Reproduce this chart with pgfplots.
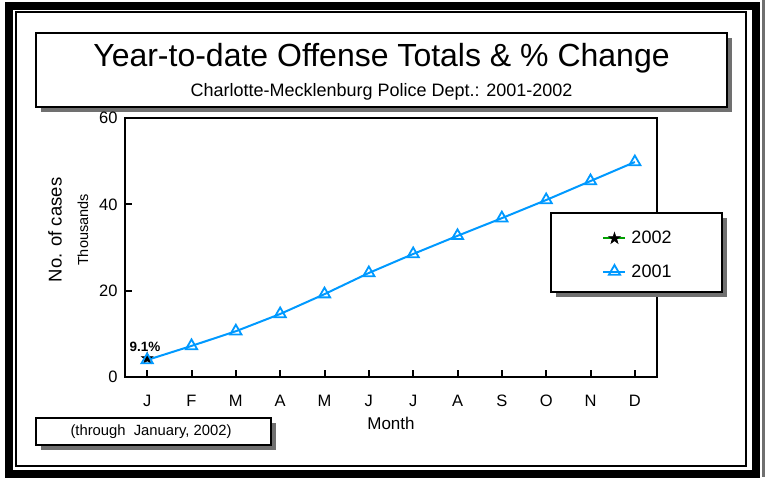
\documentclass[border=0pt]{standalone}
\usepackage{fontspec}
\setmainfont{Liberation Sans}
\usepackage{pgfplots}
\pgfplotsset{compat=1.18}
\definecolor{lblue}{RGB}{0,153,255}
\definecolor{shd}{RGB}{112,112,112}
\definecolor{lgreen}{RGB}{0,160,0}
\pgfdeclareplotmark{fstar}{%
  \pgfpathmoveto{\pgfpointpolar{90}{\pgfplotmarksize}}%
  \pgfpathlineto{\pgfpointpolar{126}{0.382\pgfplotmarksize}}%
  \pgfpathlineto{\pgfpointpolar{162}{\pgfplotmarksize}}%
  \pgfpathlineto{\pgfpointpolar{198}{0.382\pgfplotmarksize}}%
  \pgfpathlineto{\pgfpointpolar{234}{\pgfplotmarksize}}%
  \pgfpathlineto{\pgfpointpolar{270}{0.382\pgfplotmarksize}}%
  \pgfpathlineto{\pgfpointpolar{306}{\pgfplotmarksize}}%
  \pgfpathlineto{\pgfpointpolar{342}{0.382\pgfplotmarksize}}%
  \pgfpathlineto{\pgfpointpolar{18}{\pgfplotmarksize}}%
  \pgfpathlineto{\pgfpointpolar{54}{0.382\pgfplotmarksize}}%
  \pgfpathclose
  \pgfusepathqfillstroke}
\pgfplotsset{
  s2002/.style={lgreen, line width=2pt, mark=fstar, mark size=6pt, mark options={fill=black, draw=black, line width=0.6pt, solid}},
  s2001/.style={lblue, line width=2pt, mark=triangle, mark size=6.5pt, mark options={line width=1.8pt, solid}},
}
\begin{document}
\begin{tikzpicture}[x=1pt,y=1pt]
\path[use as bounding box] (0,0) rectangle (767,477);
% outer frames
\fill[shd] (761.5,0) rectangle (764.5,477);
\draw[line width=8pt] (9,3.5) rectangle (755.5,471);
\draw[line width=2pt] (16,11) rectangle (746,464.5);
% title box
\fill[shd] (41,365) rectangle (732,439);
\draw[line width=2pt, fill=white] (36,370) rectangle (727,444);
\node[anchor=base, inner sep=0] at (381.5,410.5) {\fontsize{32}{32}\selectfont Year-to-date Offense Totals \& \% Change};
\node[anchor=base, inner sep=0] at (381.5,380) {\fontsize{18}{18}\selectfont Charlotte-Mecklenburg Police Dept.: 2001-2002};
% footnote box
\fill[shd] (41,27) rectangle (276,54);
\draw[line width=2pt, fill=white] (36,32) rectangle (271,59);
\node[inner sep=0] at (151,45) {\fontsize{14.8}{14.8}\selectfont (through\ \ January, 2002)};
% axis labels
\node[rotate=90, inner sep=0] at (55,247) {\fontsize{18.5}{18.5}\selectfont No. of cases};
\node[rotate=90, inner sep=0] at (83,247) {\fontsize{14.5}{14.5}\selectfont Thousands};
\node[inner sep=0] at (391,54) {\fontsize{17}{17}\selectfont Month};
\begin{axis}[
  at={(125pt,100pt)}, anchor=south west,
  width=532pt, height=259pt, scale only axis,
  xmin=0.5, xmax=12.5, ymin=0, ymax=60,
  xtick={1,2,3,4,5,6,7,8,9,10,11,12},
  xticklabels={J,F,M,A,M,J,J,A,S,O,N,D},
  ytick={0,20,40,60},
  xtick pos=bottom, ytick pos=left,
  tick align=inside, major tick length=7pt,
  axis line style={line width=2.2pt},
  every tick/.style={line width=2pt, black},
  /pgf/number format/assume math mode=true,
  ticklabel style={font=\fontsize{16.5}{16.5}\selectfont},
  xticklabel style={yshift=-14pt, text height=12pt, text depth=0pt},
  yticklabel style={xshift=-4pt},
]
\addplot[s2002] coordinates {(1,4.3)};
\addplot[s2001]
  coordinates {(1,3.94) (2,7.2) (3,10.6) (4,14.6) (5,19.2) (6,24.1) (7,28.5) (8,32.7) (9,36.8) (10,41.0) (11,45.4) (12,49.8)};
\node[font=\fontsize{13.5}{13.5}\selectfont\bfseries] at (axis cs:0.95,7.0) {9.1\%};
\end{axis}
% legend box
\fill[shd] (556,180) rectangle (727,259);
\draw[line width=1.8pt, fill=white] (551,185) rectangle (722,264);
\begin{axis}[
  at={(0pt,0pt)}, anchor=south west,
  width=767pt, height=477pt, scale only axis,
  xmin=0, xmax=767, ymin=0, ymax=477, hide axis,
  legend style={at={(axis cs:638,222)}, anchor=center,
    draw=none, fill=none, row sep=15pt, column sep=3pt,
    font=\fontsize{18}{18}\selectfont},
  legend cell align=left,
  legend image code/.code={\draw[#1, mark repeat=2, mark phase=2] plot coordinates {(0pt,0pt) (11pt,0pt) (22pt,0pt)};},
]
\addlegendimage{s2002}
\addlegendentry{2002}
\addlegendimage{s2001}
\addlegendentry{2001}
\end{axis}
\end{tikzpicture}
\end{document}
